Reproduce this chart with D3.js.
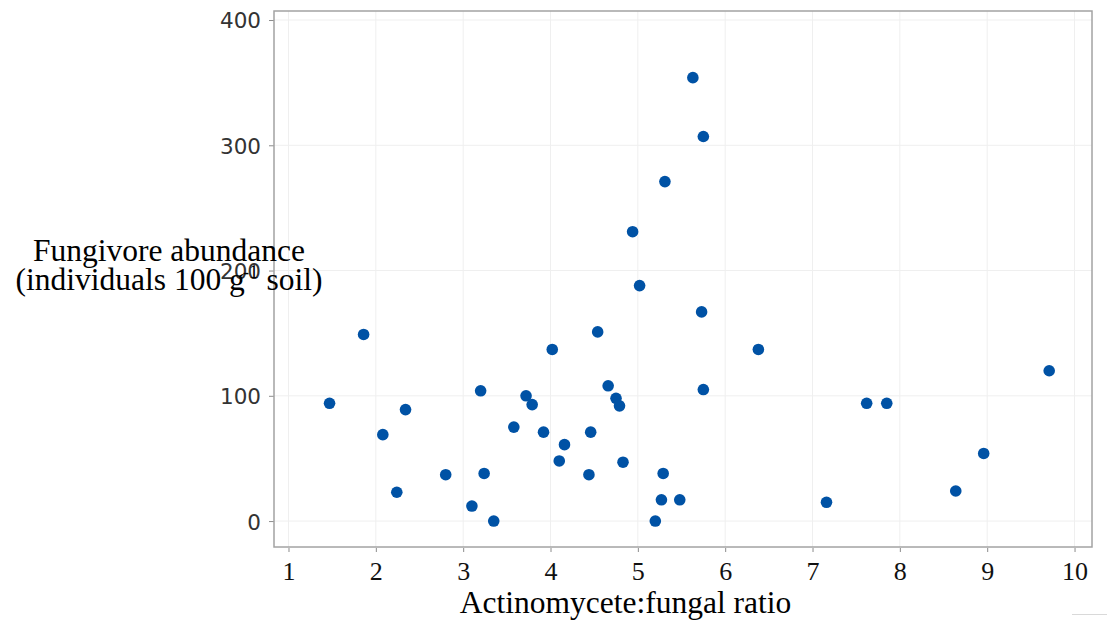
<!DOCTYPE html>
<html>
<head>
<meta charset="utf-8">
<script src="https://cdn.jsdelivr.net/npm/d3@7"></script>
<style>
  body { margin: 0; background: #fff; }
</style>
</head>
<body>
<div id="chart"></div>
<script>
// data: actinomycete:fungal ratio vs fungivore abundance
var ratio = [1.47, 1.86, 2.08, 2.34, 2.24, 2.80, 3.10, 3.20, 3.24, 3.35,
             3.58, 3.72, 3.79, 3.92, 4.02, 4.10, 4.16, 4.44, 4.46, 4.54,
             4.66, 4.75, 4.79, 4.83, 5.20, 5.27, 5.29, 5.48, 5.63, 5.75,
             5.31, 4.94, 5.02, 5.73, 6.38, 5.75, 7.62, 7.85, 9.71, 8.96,
             8.64, 7.16];
var abundance = [94, 149, 69, 89, 23, 37, 12, 104, 38, 0,
                 75, 100, 93, 71, 137, 48, 61, 37, 71, 151,
                 108, 98, 92, 47, 0, 17, 38, 17, 354, 307,
                 271, 231, 188, 167, 137, 105, 94, 94, 120, 54,
                 24, 15];
var xTicks = [1, 2, 3, 4, 5, 6, 7, 8, 9, 10];
var yTicks = [0, 100, 200, 300, 400];

var W = 1107, H = 622;
var panel = {left: 274, top: 11, right: 1092, bottom: 547};
var serif = "'Liberation Serif', 'Times New Roman', serif";

var svg = d3.select("#chart")
  .append("svg")
    .attr("width", W)
    .attr("height", H);

var x = d3.scaleLinear()
  .domain([0.834, 10.2])
  .range([panel.left, panel.right]);

var y = d3.scaleLinear()
  .domain([-20.7, 407.2])
  .range([panel.bottom, panel.top]);

// grid lines
svg.append("g")
  .selectAll("line")
  .data(xTicks)
  .enter()
  .append("line")
    .attr("x1", function(d) { return x(d); })
    .attr("x2", function(d) { return x(d); })
    .attr("y1", panel.top)
    .attr("y2", panel.bottom)
    .attr("stroke", "#efefef")
    .attr("stroke-width", 1);

svg.append("g")
  .selectAll("line")
  .data(yTicks)
  .enter()
  .append("line")
    .attr("x1", panel.left)
    .attr("x2", panel.right)
    .attr("y1", function(d) { return y(d); })
    .attr("y2", function(d) { return y(d); })
    .attr("stroke", "#efefef")
    .attr("stroke-width", 1);

// X axis
var xAxis = svg.append("g")
  .attr("transform", "translate(0," + panel.bottom + ")")
  .call(d3.axisBottom(x).tickValues(xTicks).tickSize(5).tickFormat(d3.format("d")));
xAxis.select(".domain").remove();
xAxis.selectAll(".tick line").attr("stroke", "#8c8c8c").attr("y1", 1);
xAxis.selectAll("text")
  .attr("y", 33)
  .attr("dy", 0)
  .style("font-family", serif)
  .style("font-size", "26px")
  .style("fill", "#111");

// Y axis
var yAxis = svg.append("g")
  .attr("transform", "translate(" + panel.left + ",0)")
  .call(d3.axisLeft(y).tickValues(yTicks).tickSize(5));
yAxis.select(".domain").remove();
yAxis.selectAll(".tick line").attr("stroke", "#8c8c8c");
yAxis.selectAll("text")
  .attr("x", -13)
  .attr("dy", "0.37em")
  .style("font-family", "'DejaVu Sans', sans-serif")
  .style("font-size", "21.5px")
  .style("fill", "#333");

// panel border
svg.append("rect")
  .attr("x", panel.left)
  .attr("y", panel.top)
  .attr("width", panel.right - panel.left)
  .attr("height", panel.bottom - panel.top)
  .attr("fill", "none")
  .attr("stroke", "#a3a3a3")
  .attr("stroke-width", 1.5);

// points
svg.append("g")
  .selectAll("circle")
  .data(ratio.map(function(d, i) { return {x: d, y: abundance[i]}; }))
  .enter()
  .append("circle")
    .attr("cx", function(d) { return x(d.x); })
    .attr("cy", function(d) { return y(d.y); })
    .attr("r", 5.8)
    .style("fill", "#0052a5");

// axis titles
svg.append("text")
  .attr("x", 625.5)
  .attr("y", 613)
  .attr("text-anchor", "middle")
  .style("font-family", serif)
  .style("font-size", "31.5px")
  .style("fill", "#000")
  .text("Actinomycete:fungal ratio");

var yt = svg.append("g")
  .style("font-family", serif)
  .style("font-size", "31.5px")
  .style("fill", "#000");
yt.append("text")
  .attr("x", 169)
  .attr("y", 261)
  .attr("text-anchor", "middle")
  .text("Fungivore abundance");
var l2 = yt.append("text")
  .attr("x", 169)
  .attr("y", 290)
  .attr("text-anchor", "middle");
l2.append("tspan").text("(individuals 100 g");
l2.append("tspan").attr("dy", -12).attr("dx", -2).style("font-size", "19px").text("-1");
l2.append("tspan").attr("dy", 12).text(" soil)");

// small stray rule at bottom right of the original
svg.append("line")
  .attr("x1", 1072).attr("x2", W)
  .attr("y1", 614.5).attr("y2", 614.5)
  .attr("stroke", "#d9d9d9")
  .attr("stroke-width", 1);
</script>
</body>
</html>
